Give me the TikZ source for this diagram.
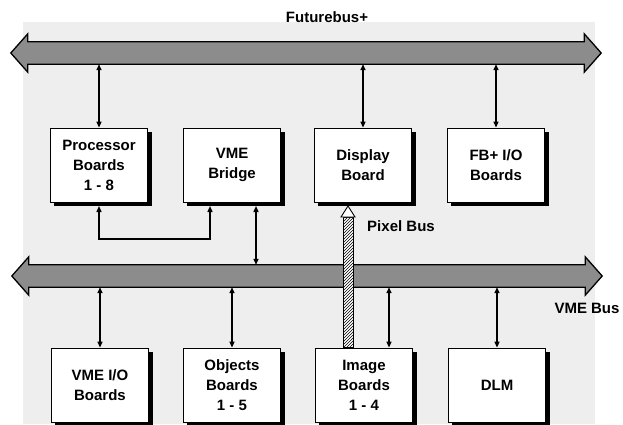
\documentclass[tikz,border=0pt]{standalone}
\usepackage{fontspec}
\setmainfont{Liberation Sans}
\usetikzlibrary{arrows.meta,patterns,positioning}
\definecolor{fondo}{HTML}{EEEEEE}
\definecolor{busgris}{HTML}{8C8C8C}

\begin{document}
\begin{tikzpicture}[x=1pt,y=-1pt]
  % estilos
  \tikzset{
    tarjeta/.style={draw=black, line width=0.8pt, fill=white,
      minimum width=97pt, minimum height=74pt, inner sep=0pt, align=center,
      font=\fontsize{15}{20}\selectfont\bfseries},
    sombra/.style={draw=black, line width=3.2pt},
    cuerpo/.style={minimum width=556pt, minimum height=22pt, inner sep=0pt},
    bus/.style={draw=black, line width=1.3pt, fill=busgris, line join=miter},
    enlace/.style={line width=1.4pt,
      {Triangle[length=6pt,width=5pt]}-{Triangle[length=6pt,width=5pt]}},
    rotulo/.style={font=\fontsize{15}{20}\selectfont\bfseries, inner sep=0pt}
  }
  \useasboundingbox (0,0) rectangle (623,424);
  \fill[white] (0,0) rectangle (623,424);
  \fill[fondo] (23,22) rectangle (595,424);

  % --- BUSES ---
  \node[cuerpo] (fbus) at (306,53) {};
  \node[cuerpo] (vbus) at (307,276) {};
  \foreach \b in {fbus,vbus}
    \draw[bus] (\b.north west) -- (\b.north east) -- ([yshift=8pt]\b.north east)
      -- ([xshift=17pt]\b.east) -- ([yshift=-8pt]\b.south east) -- (\b.south east)
      -- (\b.south west) -- ([yshift=-8pt]\b.south west) -- ([xshift=-17pt]\b.west)
      -- ([yshift=8pt]\b.north west) -- cycle;

  % --- TARJETAS ---
  \node[tarjeta] (proc) at (99,165) {Processor\\Boards\\1 - 8};
  \node[tarjeta] (puente) at (232,165) {VME\\Bridge};
  \node[tarjeta] (disp) at (363,165) {Display\\Board};
  \node[tarjeta] (fbio) at (496,165) {FB+ I/O\\Boards};
  \node[tarjeta] (vmeio) at (100,385) {VME I/O\\Boards};
  \node[tarjeta] (obj) at (232,385) {Objects\\Boards\\1 - 5};
  \node[tarjeta] (img) at (364,385) {Image\\Boards\\1 - 4};
  \node[tarjeta] (dlm) at (497,385) {DLM};
  % sombras
  \foreach \caja in {proc,puente,disp,fbio,vmeio,obj,img,dlm}{
    \draw[sombra] ([xshift=4pt,yshift=-2pt]\caja.south west)
      -- ([xshift=2pt,yshift=-2pt]\caja.south east)
      -- ([xshift=2pt,yshift=-4pt]\caja.north east);
  }

  % --- ENLACES ---
  \draw[enlace] (fbus.south -| proc.north) -- (proc.north);
  \draw[enlace] (fbus.south -| disp.north) -- (disp.north);
  \draw[enlace] (fbus.south -| fbio.north) -- (fbio.north);
  \coordinate (pb) at ([xshift=24pt]puente.south);
  \draw[enlace] ([yshift=-3.6pt]pb) -- (pb |- vbus.north);
  \coordinate (pp) at ([xshift=-22pt]puente.south);
  \draw[enlace] ([yshift=-3.6pt]proc.south) -- ++(0,33) -| ([yshift=-3.6pt]pp);
  \draw[enlace] (vbus.south -| vmeio.north) -- (vmeio.north);
  \draw[enlace] (vbus.south -| obj.north) -- (obj.north);
  \coordinate (ib) at ([xshift=25pt]img.north);
  \draw[enlace] (vbus.south -| ib) -- (ib);
  \draw[enlace] (vbus.south -| dlm.north) -- (dlm.north);

  % --- PIXEL BUS ---
  \coordinate (pxa) at ([xshift=-15pt,yshift=-3.6pt]disp.south);
  \coordinate (pxb) at ([xshift=-15pt]img.north);
  \draw[line width=0.9pt, preaction={fill=white}, pattern=north east lines]
    ([xshift=-4.5pt,yshift=-11pt]pxa) rectangle ([xshift=4.5pt]pxb);
  \draw[line width=0.9pt, fill=white] (pxa) -- ([xshift=-7pt,yshift=-11pt]pxa)
    -- ([xshift=7pt,yshift=-11pt]pxa) -- cycle;

  % --- ROTULOS ---
  \node[rotulo] (lfb) at (327,17) {Futurebus+};
  \node[rotulo] (lvme) at (587,308) {VME Bus};
  \node[rotulo] (lpix) at (401,226) {Pixel Bus};
\end{tikzpicture}
\end{document}
